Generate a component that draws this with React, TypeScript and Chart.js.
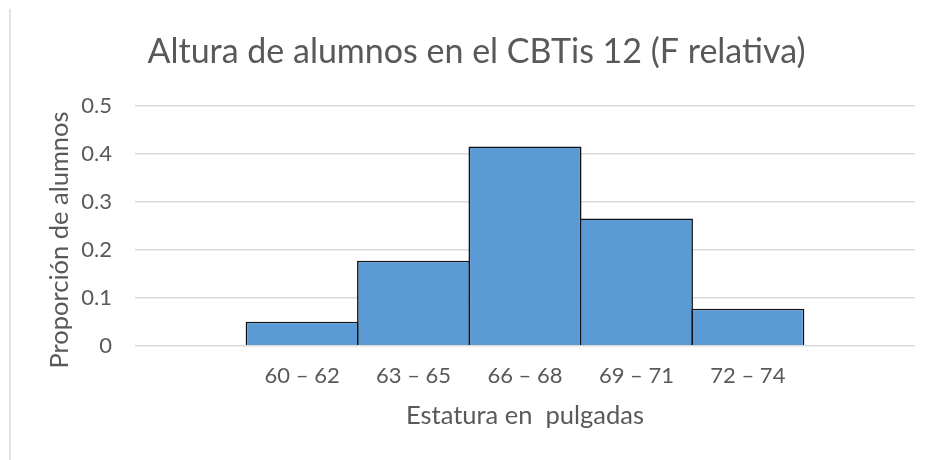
import React, { useEffect, useRef } from "react";
import { Chart, registerables } from "chart.js";

Chart.register(...registerables);

const chartTitle = "Altura de alumnos en el CBTis 12 (F relativa)";
const xAxisTitle = "Estatura en  pulgadas";
const yAxisTitle = "Proporción de alumnos";
const categories = ["", "60 – 62", "63 – 65", "66 – 68", "69 – 71", "72 – 74", ""];
const proportions: (number | null)[] = [null, 0.05, 0.177, 0.415, 0.265, 0.077, null];
const yMin = 0;
const yMax = 0.5;
const yStep = 0.1;

const TEXT = "#595959";
const FONT = "Lato, 'Open Sans', sans-serif";

const yTitlePlugin = {
  id: "yTitlePlugin",
  afterDraw(chart: any) {
    const ctx = chart.ctx;
    ctx.save();
    ctx.translate(60, 240);
    ctx.rotate(-Math.PI / 2);
    ctx.font = `400 25.5px ${FONT}`;
    ctx.fillStyle = TEXT;
    ctx.textAlign = "center";
    ctx.textBaseline = "middle";
    ctx.fillText(yAxisTitle, 0, 0);
    ctx.restore();
  },
};

export default function App() {
  const ref = useRef<HTMLCanvasElement | null>(null);

  useEffect(() => {
    if (!ref.current) return;
    const chart = new Chart(ref.current, {
      type: "bar",
      data: {
        labels: categories,
        datasets: [
          {
            data: proportions as any,
            backgroundColor: "#5B9BD5",
            borderColor: "#111111",
            borderWidth: 1.6,
            borderSkipped: "start",
            barPercentage: 1.0145,
            categoryPercentage: 1,
          },
        ],
      },
      options: {
        responsive: false,
        animation: false,
        devicePixelRatio: 1,
        layout: { padding: { left: 38, right: 14, top: 0, bottom: 0 } },
        plugins: {
          legend: { display: false },
          tooltip: { enabled: false },
          title: {
            display: true,
            text: chartTitle,
            color: TEXT,
            font: { family: FONT, size: 34, weight: "400" as any },
            padding: { top: 31.4, bottom: 33.5 },
          },
        },
        scales: {
          x: {
            offset: true,
            grid: { display: false, drawTicks: false },
            border: { display: false },
            ticks: {
              color: TEXT,
              font: { family: FONT, size: 22 },
              padding: 16.6,
              maxRotation: 0,
              autoSkip: false,
            },
            title: {
              display: true,
              text: xAxisTitle,
              color: TEXT,
              font: { family: FONT, size: 25.5 },
              padding: { top: 28.8, bottom: 28.8 },
            },
            afterFit(scale: any) {
              scale.height = 114.3;
            },
          },
          y: {
            min: yMin,
            max: yMax,
            grid: { color: "#d9d9d9", lineWidth: 1.6, drawTicks: false },
            border: { display: false },
            ticks: {
              stepSize: yStep,
              color: TEXT,
              font: { family: FONT, size: 22 },
              padding: 23,
              callback: (v: any) => String(Math.round(Number(v) * 10) / 10),
            },
            afterFit(scale: any) {
              scale.width = 97;
            },
          },
        },
      },
      plugins: [yTitlePlugin],
    });
    return () => chart.destroy();
  }, []);

  return (
    <div
      style={{
        position: "fixed",
        left: 0,
        top: 0,
        width: 929,
        height: 460,
        background: "#ffffff",
        overflow: "hidden",
      }}
    >
      <div
        style={{
          position: "absolute",
          left: 9,
          top: 9,
          width: 2,
          height: 451,
          background: "#e2e2e2",
        }}
      />
      <canvas
        ref={ref}
        width={929}
        height={460}
        style={{ position: "absolute", left: 0, top: 0, width: 929, height: 460 }}
      />
    </div>
  );
}
